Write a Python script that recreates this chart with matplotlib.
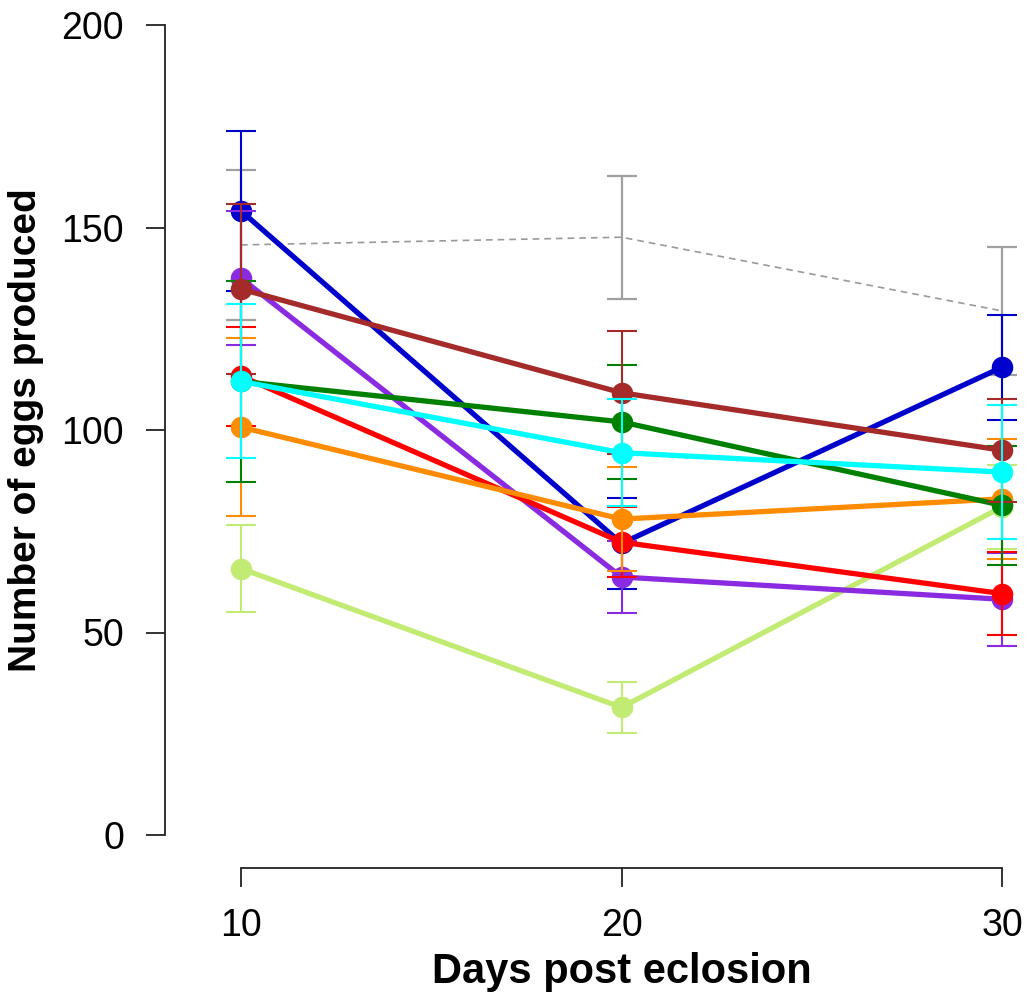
import matplotlib
matplotlib.use('Agg')
import matplotlib.pyplot as plt

plt.rcParams['font.family'] = ['Liberation Sans', 'DejaVu Sans']

# Datos
days = [10, 20, 30]

control_mean = [145.7, 147.6, 129.4]
control_se = [18.5, 15.2, 15.7]

series_names = ['lightgreen', 'blue', 'purple', 'red', 'orange', 'green', 'brown', 'cyan']
series_colors = ['#c2eb73', '#0000cd', '#8a2be2', '#ff0000', '#ff8c00', '#008000', '#a52a2a', '#00ffff']
series_means = [
    [65.8, 31.5, 81.0],
    [154.1, 72.0, 115.5],
    [137.5, 63.7, 58.2],
    [113.3, 72.3, 59.6],
    [100.7, 78.0, 83.0],
    [112.0, 102.0, 81.4],
    [134.8, 109.2, 95.0],
    [112.0, 94.4, 89.6],
]
series_se = [
    [10.7, 6.3, 10.4],
    [19.7, 11.3, 13.0],
    [16.5, 9.0, 11.5],
    [12.2, 8.7, 10.2],
    [22.0, 12.8, 14.8],
    [24.8, 14.0, 14.7],
    [21.0, 15.2, 12.7],
    [19.0, 13.2, 16.6],
]

W, H = 1027, 994
fig = plt.figure(figsize=(W / 100, H / 100), dpi=100)

# Posición de ejes en píxeles (estilo R: ejes separados)
left_px, right_px, top_px, bottom_px = 165, 1027, 25, 868
ax = fig.add_axes([left_px / W, 1 - bottom_px / H,
                   (right_px - left_px) / W, (bottom_px - top_px) / H])

# escala: 10 -> 241 px, 30 -> 1002 px ; 0 -> 835 px, 200 -> 25 px
px_per_x = (1002 - 241) / 20
x0 = 10 - (241 - left_px) / px_per_x
x1 = 30 + (right_px - 1002) / px_per_x
px_per_y = (835 - 25) / 200
y0 = -(bottom_px - 835) / px_per_y
y1 = 200 + (25 - top_px) / px_per_y
ax.set_xlim(x0, x1)
ax.set_ylim(y0, y1)

# Control (línea gris discontinua)
ax.errorbar(days, control_mean, yerr=control_se, color='#999999', linestyle=(0, (4, 3)),
            linewidth=1.2, elinewidth=1.6, capsize=11, capthick=1.6, ecolor='#a0a0a0',
            zorder=1)

for i in range(len(series_names)):
    c = series_colors[i]
    ax.errorbar(days, series_means[i], yerr=series_se[i], fmt='none', ecolor=c,
                elinewidth=1.5, capsize=11, capthick=1.5, zorder=2 + i)
    ax.plot(days, series_means[i], color=c, linewidth=3.8, marker='o',
            markersize=15.5, markeredgewidth=0, zorder=2 + i)

for s in ['top', 'right']:
    ax.spines[s].set_visible(False)
ax.spines['left'].set_bounds(0, 200)
ax.spines['bottom'].set_bounds(10, 30)
for s in ['left', 'bottom']:
    ax.spines[s].set_linewidth(1.3)
    ax.spines[s].set_color('#222222')

ax.set_yticks([0, 50, 100, 150, 200])
ax.set_xticks(days)
ax.tick_params(axis='both', length=13.5, width=1.3, color='#222222', labelsize=27)
ax.tick_params(axis='y', pad=16)
ax.tick_params(axis='x', pad=15)

ax.set_xlabel('Days post eclosion', fontsize=30, fontweight='bold')
ax.set_ylabel('Number of eggs produced', fontsize=28, fontweight='bold')
ax.xaxis.set_label_coords((20 - x0) / (x1 - x0), -(983 - bottom_px) / (bottom_px - top_px))
ax.xaxis.label.set_va('baseline')
ax.yaxis.set_label_coords(-(left_px - 44) / (right_px - left_px), (100 - y0) / (y1 - y0))

fig.savefig('out.png', dpi=100)
